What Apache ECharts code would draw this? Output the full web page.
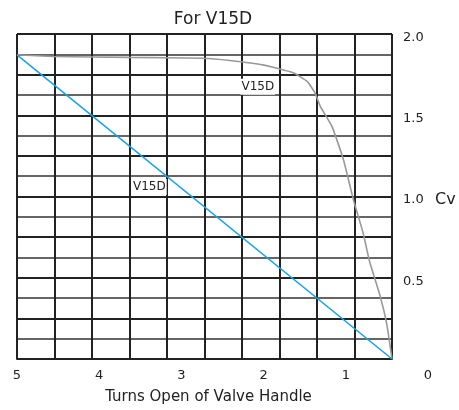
<!DOCTYPE html>
<html>
<head>
<meta charset="utf-8">
<title>For V15D</title>
<script src="https://cdn.jsdelivr.net/npm/echarts@6/dist/echarts.min.js"></script>
<style>
  html, body { margin: 0; padding: 0; background: #fff; }
  #chart { width: 459px; height: 410px; }
</style>
</head>
<body>
<div id="chart"></div>
<script>
// turns open (x) vs Cv (y)
const grayTurns = [5.00, 4.55, 3.64, 2.73, 2.41, 2.01, 1.64, 1.47, 1.375, 1.31, 1.17, 1.03, 0.91, 0.79, 0.71, 0.585, 0.50, 0.438];
const grayCv    = [1.872, 1.862, 1.856, 1.851, 1.837, 1.810, 1.761, 1.708, 1.637, 1.555, 1.433, 1.229, 0.985, 0.777, 0.598, 0.393, 0.210, 0];
const blueTurns = [5.00, 0.438];
const blueCv    = [1.872, 0];
const seriesLabel = 'V15D';
const grayLabelAt = [2.07, 1.676];
const blueLabelAt = [3.39, 1.058];

const textColor = '#222';
const lineColor = '#222';
const fontFamily = '"DejaVu Sans", Verdana, sans-serif';

const zip = (xs, ys) => xs.map((x, i) => [x, ys[i]]);

const labelMark = (coord) => ({
  symbol: 'rect',
  symbolSize: [1, 1],
  itemStyle: { color: 'rgba(0,0,0,0)' },
  label: {
    show: true,
    position: 'inside',
    formatter: seriesLabel,
    color: textColor,
    fontSize: 12,
    fontFamily,
    backgroundColor: '#fff',
    padding: [2, 1]
  },
  data: [{ coord }]
});

const chart = echarts.init(document.getElementById('chart'));

chart.setOption({
  backgroundColor: '#fff',
  animation: false,
  title: {
    text: 'For V15D',
    left: 208,
    top: 6,
    textAlign: 'center',
    textStyle: { color: textColor, fontSize: 17, fontWeight: 'normal', fontFamily }
  },
  grid: [
    { left: 17, top: 34, width: 375, height: 327 },
    { left: 17, top: 34, width: 411, height: 327 }
  ],
  xAxis: [
    {
      // data axis for the curves
      gridIndex: 0, type: 'value', inverse: true, min: 0.438, max: 5,
      show: false
    },
    {
      // 10 grid columns, plus the axis name
      gridIndex: 0, type: 'value', position: 'bottom', min: 0, max: 10, interval: 1,
      axisLine: { show: true, lineStyle: { color: lineColor, width: 2 } },
      axisTick: { show: false },
      axisLabel: { show: false },
      splitLine: { show: true, lineStyle: { color: lineColor, width: 2 } },
      name: 'Turns Open of Valve Handle',
      nameLocation: 'middle',
      nameGap: 31,
      nameTextStyle: { color: textColor, fontSize: 15, fontFamily, padding: [0, 0, 0, 8] }
    },
    {
      // tick labels 5..0
      gridIndex: 1, type: 'value', inverse: true, min: 0, max: 5, interval: 1,
      axisLine: { show: false },
      axisTick: { show: false },
      splitLine: { show: false },
      axisLabel: { color: textColor, fontSize: 13, fontFamily, margin: 8 }
    }
  ],
  yAxis: [
    {
      gridIndex: 0, type: 'value', position: 'right', min: 0, max: 2, interval: 0.25,
      axisLine: { show: false },
      axisTick: { show: false },
      minorTick: { show: false, splitNumber: 2 },
      splitLine: { show: true, lineStyle: { color: lineColor, width: 2 } },
      minorSplitLine: { show: true, lineStyle: { color: '#333', width: 1.5 } },
      axisLabel: {
        color: textColor, fontSize: 13, fontFamily, margin: 11,
        verticalAlign: 'top',
        lineHeight: 7,
        formatter: v => (v > 0 && Math.abs(v * 2 - Math.round(v * 2)) < 1e-9) ? v.toFixed(1) : ''
      },
      name: 'Cv',
      nameLocation: 'middle',
      nameRotate: 0,
      nameGap: 43,
      nameTextStyle: { color: textColor, fontSize: 16, fontFamily, verticalAlign: 'top', lineHeight: 6 }
    },
    { gridIndex: 1, type: 'value', min: 0, max: 2, show: false }
  ],
  series: [
    {
      name: 'V15D gray',
      type: 'line',
      xAxisIndex: 0,
      yAxisIndex: 0,
      data: zip(grayTurns, grayCv),
      symbol: 'none',
      smooth: 0.15,
      lineStyle: { color: '#999', width: 1.6 },
      markPoint: labelMark(grayLabelAt),
      z: 3
    },
    {
      name: 'V15D blue',
      type: 'line',
      xAxisIndex: 0,
      yAxisIndex: 0,
      data: zip(blueTurns, blueCv),
      symbol: 'none',
      lineStyle: { color: '#1ea3dd', width: 1.6 },
      markPoint: labelMark(blueLabelAt),
      z: 3
    }
  ]
});
</script>
</body>
</html>
